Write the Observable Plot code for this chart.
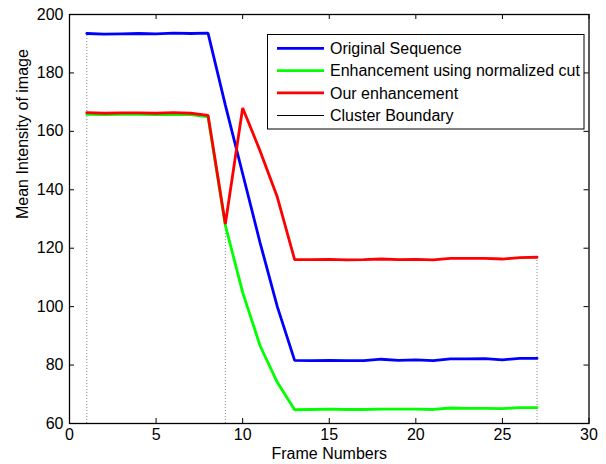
<!DOCTYPE html>
<html><head><meta charset="utf-8">
<script src="https://cdn.jsdelivr.net/npm/d3@7"></script>
<script src="https://cdn.jsdelivr.net/npm/@observablehq/plot@0.6"></script>
<style>body{margin:0;background:#fff}#chart{width:606px;height:464px}</style>
</head><body><div id="chart"></div>
<script>
const frames = [1,2,3,4,5,6,7,8,9,10,11,12,13,14,15,16,17,18,19,20,21,22,23,24,25,26,27];
const originalSeq = [193.5,193.3,193.4,193.5,193.4,193.6,193.5,193.6,169.0,145.5,122.0,100.0,81.6,81.5,81.6,81.5,81.5,82.0,81.6,81.8,81.5,82.1,82.1,82.2,81.8,82.3,82.3];
const ncutEnh = [165.8,165.7,165.8,165.8,165.7,165.8,165.7,165.0,127.8,104.9,86.7,74.1,64.7,64.8,64.9,64.8,64.8,64.9,64.9,64.9,64.8,65.3,65.2,65.2,65.1,65.4,65.4];
const ourEnh = [166.4,166.2,166.3,166.3,166.2,166.4,166.2,165.5,128.3,168.0,153.4,137.5,116.1,116.1,116.2,116.0,116.1,116.3,116.1,116.2,116.0,116.5,116.5,116.5,116.3,116.8,116.9];
const seriesNames = ["Original Sequence","Enhancement using normalized cut","Our enhancement"];
const seriesColors = ["#0000ff","#00ff00","#ff0000"];
const boundaryName = "Cluster Boundary";
const boundaryFrames = [1, 9, 27];
const boundaryTops = [193.5, 128.3, 116.9];
const xTicks = [0,5,10,15,20,25,30];
const yTicks = [60,80,100,120,140,160,180,200];
const xLabel = "Frame Numbers";
const yLabel = "Mean Intensity of image";

const W = 606, H = 464, mL = 69, mR = 17.5, mT = 14, mB = 41;
const fw = W - mL - mR, fh = H - mT - mB;
const seriesValues = [originalSeq, ncutEnh, ourEnh];
const lineMarks = seriesValues.map((vals, s) =>
  Plot.line(frames.map((f, i) => ({frame: f, value: vals[i]})),
    {x: "frame", y: "value", stroke: seriesColors[s], strokeWidth: 2.8, strokeLinejoin: "miter"}));
const boundaries = boundaryFrames.map((x, i) => ({x, top: boundaryTops[i]}));

const plot = Plot.plot({
  width: W, height: H,
  marginLeft: mL, marginRight: mR, marginTop: mT, marginBottom: mB,
  style: {fontFamily: "'Liberation Sans', Arial, sans-serif", fontSize: "16px", background: "#fff", color: "#000"},
  x: {domain: [0, 30], label: null},
  y: {domain: [60, 200], label: null},
  marks: [
    Plot.ruleX(boundaries, {x: "x", y1: 60, y2: "top", stroke: "#8a8a8a", strokeWidth: 1, strokeDasharray: "1,2"}),
    ...lineMarks,
    Plot.tickX(xTicks, {x: d => d, insetTop: fh - 5, stroke: "black"}),
    Plot.tickX(xTicks, {x: d => d, insetBottom: fh - 5, stroke: "black"}),
    Plot.tickY(yTicks, {y: d => d, insetRight: fw - 5, stroke: "black"}),
    Plot.tickY(yTicks, {y: d => d, insetLeft: fw - 5, stroke: "black"}),
    Plot.axisX(xTicks, {tickSize: 0, tickPadding: 5, label: null}),
    Plot.axisY(yTicks, {tickSize: 0, tickPadding: 6, label: null}),
    Plot.frame({stroke: "black", strokeWidth: 1.3}),
    Plot.text([xLabel], {frameAnchor: "bottom", dy: 35, text: d => d}),
    Plot.text([yLabel], {frameAnchor: "left", rotate: -90, dx: -47, text: d => d})
  ]
});
document.getElementById("chart").appendChild(plot);

// legend inside the axes
const svg = d3.select(plot);
const g = svg.append("g").attr("font-family", "'Liberation Sans', Arial, sans-serif")
  .attr("font-size", 16).attr("text-anchor", "start");
g.append("rect").attr("x", 267.5).attr("y", 34.5).attr("width", 316.5).attr("height", 94.5)
  .attr("fill", "white").attr("stroke", "black").attr("stroke-width", 1);
const entries = seriesNames.map((n, i) => ({name: n, color: seriesColors[i], w: 2.8}))
  .concat([{name: boundaryName, color: "black", w: 1}]);
const rowY = [48.3, 70.7, 92.9, 115.5];
entries.forEach((e, i) => {
  g.append("line").attr("x1", 277).attr("x2", 324).attr("y1", rowY[i]).attr("y2", rowY[i])
    .attr("stroke", e.color).attr("stroke-width", e.w);
  g.append("text").attr("x", 330).attr("y", rowY[i]).attr("dy", "0.35em")
    .attr("text-anchor", "start").attr("fill", "black").text(e.name);
});
</script>
</body></html>
